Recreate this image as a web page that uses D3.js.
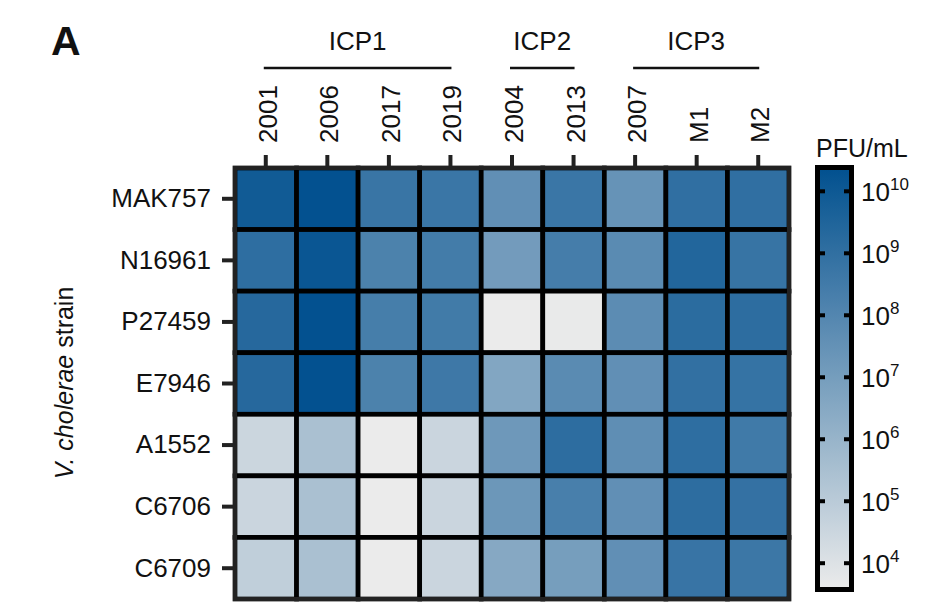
<!DOCTYPE html>
<html>
<head>
<meta charset="utf-8">
<script src="https://cdn.jsdelivr.net/npm/d3@7/dist/d3.min.js"></script>
<style>
  html, body { margin: 0; padding: 0; background: #ffffff; }
  svg { display: block; }
  text { font-family: "Liberation Sans", Arial, Helvetica, sans-serif; fill: #111; }
</style>
</head>
<body>
<svg id="chart" width="928" height="612"></svg>
<script>
// ---------------- DATA ----------------
const phages = ["2001", "2006", "2017", "2019", "2004", "2013", "2007", "M1", "M2"];
const strains = ["MAK757", "N16961", "P27459", "E7946", "A1552", "C6706", "C6709"];
const groupNames = ["ICP1", "ICP2", "ICP3"];
const groupMembers = [["2001", "2006", "2017", "2019"], ["2004", "2013"], ["2007", "M1", "M2"]];
// log10(PFU/mL), one row per strain, columns follow `phages`
const titerMAK757 = [9.9, 10.3, 8.75, 8.7, 7.6, 8.7, 7.45, 9.0, 9.0];
const titerN16961 = [9.05, 10.1, 8.2, 8.45, 7.07, 8.4, 7.8, 9.4, 8.8];
const titerP27459 = [9.3, 10.3, 8.37, 8.5, 3.6, 3.65, 7.73, 9.15, 9.1];
const titerE7946 = [9.3, 10.3, 8.2, 8.6, 6.63, 7.8, 7.6, 8.95, 8.85];
const titerA1552 = [4.52, 5.48, 3.6, 4.55, 7.2, 9.1, 7.65, 9.05, 8.55];
const titerC6706 = [4.55, 5.48, 3.6, 4.55, 7.27, 8.3, 7.6, 9.1, 8.9];
const titerC6709 = [4.84, 5.48, 3.6, 4.55, 6.52, 6.98, 7.6, 8.77, 8.65];
const titers = [titerMAK757, titerN16961, titerP27459, titerE7946, titerA1552, titerC6706, titerC6709];
const colorDomain = [3.6, 10.36];          // log10 PFU/mL range of the colour bar
const colorbarTicks = [4, 5, 6, 7, 8, 9, 10];

// ---------------- CHART ----------------
const svg = d3.select("#chart");
const font = '"Liberation Sans", Arial, Helvetica, sans-serif';

const x = d3.scaleBand().domain(phages).range([235, 789]).padding(0);
const y = d3.scaleBand().domain(strains).range([168, 599]).padding(0);
const color = d3.scaleLinear().domain(colorDomain).range(["#ebebeb", "#01508f"]).interpolate(d3.interpolateRgb);

const cells = [];
strains.forEach((s, i) => phages.forEach((p, j) => cells.push({ s, p, v: titers[i][j] })));

svg.append("g").selectAll("rect").data(cells).join("rect")
  .attr("x", d => x(d.p)).attr("y", d => y(d.s))
  .attr("width", x.bandwidth()).attr("height", y.bandwidth())
  .attr("fill", d => color(d.v))
  .attr("stroke", "#000").attr("stroke-width", 4.7);

// frame
svg.append("rect")
  .attr("x", 235).attr("y", 168).attr("width", 789 - 235).attr("height", 599 - 168)
  .attr("fill", "none").attr("stroke", "#222").attr("stroke-width", 4);

// left axis (strains)
const yAxis = svg.append("g").attr("transform", "translate(233,0)")
  .call(d3.axisLeft(y).tickSize(11).tickPadding(11));
yAxis.select(".domain").remove();
yAxis.selectAll(".tick line").attr("stroke", "#222").attr("stroke-width", 4);
yAxis.selectAll(".tick text").attr("font-size", 26).attr("font-family", font).attr("fill", "#111");

// top axis (phages)
const xAxis = svg.append("g").attr("transform", "translate(0,166)")
  .call(d3.axisTop(x).tickSize(11).tickPadding(0));
xAxis.select(".domain").remove();
xAxis.selectAll(".tick line").attr("stroke", "#222").attr("stroke-width", 4);
xAxis.selectAll(".tick text")
  .attr("font-size", 26).attr("font-family", font).attr("fill", "#111")
  .attr("transform", "translate(11,-23) rotate(-90)")
  .attr("text-anchor", "start").attr("x", 0).attr("y", 0).attr("dy", 0);

// group brackets
groupNames.forEach((g, k) => {
  const mem = groupMembers[k];
  const x0 = x(mem[0]) + x.bandwidth() / 2 - 2;
  const x1 = x(mem[mem.length - 1]) + x.bandwidth() / 2 + 1;
  svg.append("line").attr("x1", x0).attr("x2", x1).attr("y1", 68).attr("y2", 68)
    .attr("stroke", "#111").attr("stroke-width", 2.6);
  svg.append("text").attr("x", (x0 + x1) / 2).attr("y", 50)
    .attr("text-anchor", "middle").attr("font-size", 26).text(g);
});

// panel letter
svg.append("text").attr("x", 51).attr("y", 55).attr("font-size", 41)
  .attr("font-weight", "bold").attr("fill", "#000").text("A");

// y title
const yt = svg.append("text").attr("transform", "translate(73,383) rotate(-90)")
  .attr("text-anchor", "middle").attr("font-size", 25);
yt.append("tspan").attr("font-style", "italic").text("V. cholerae");
yt.append("tspan").text(" strain");

// ---------------- COLOR BAR ----------------
const cbY = d3.scaleLinear().domain(colorDomain).range([588, 169]);
const defs = svg.append("defs");
const grad = defs.append("linearGradient").attr("id", "cbgrad")
  .attr("x1", 0).attr("x2", 0).attr("y1", 1).attr("y2", 0);
d3.range(0, 1.0001, 0.1).forEach(t => {
  const v = colorDomain[0] + t * (colorDomain[1] - colorDomain[0]);
  grad.append("stop").attr("offset", t).attr("stop-color", color(v));
});
svg.append("rect").attr("x", 817.5).attr("y", 167.5).attr("width", 34).attr("height", 422)
  .attr("fill", "url(#cbgrad)").attr("stroke", "#000").attr("stroke-width", 5);

const cbt = svg.append("g").selectAll("g").data(colorbarTicks).join("g")
  .attr("transform", d => `translate(0,${cbY(d)})`);
cbt.append("line").attr("x1", 817.5).attr("x2", 825).attr("stroke", "#000").attr("stroke-width", 4);
cbt.append("line").attr("x1", 844).attr("x2", 851.5).attr("stroke", "#000").attr("stroke-width", 4);
const lab = cbt.append("text").attr("x", 861).attr("y", 10).attr("font-size", 26);
lab.append("tspan").text("10");
lab.append("tspan").attr("font-size", 17).attr("dy", -11).text(d => d);

svg.append("text").attr("x", 816).attr("y", 157).attr("font-size", 25).text("PFU/mL");
</script>
</body>
</html>
